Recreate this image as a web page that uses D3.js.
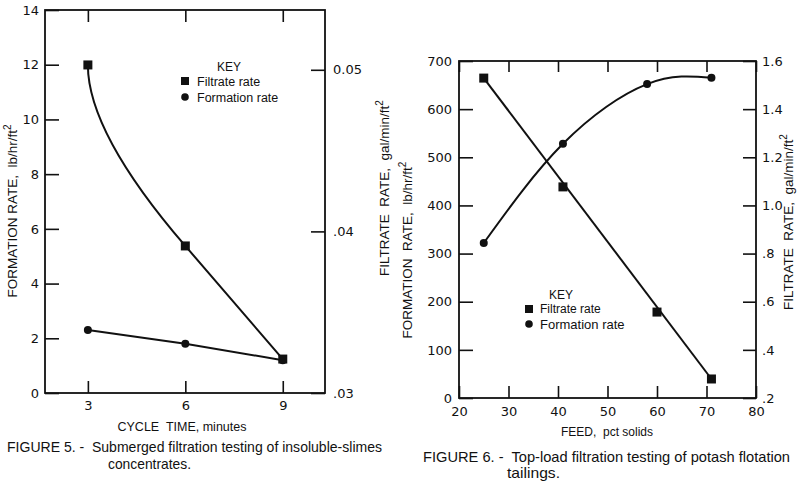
<!DOCTYPE html>
<html>
<head>
<meta charset="utf-8">
<script src="https://cdn.jsdelivr.net/npm/d3@7"></script>
<style>
  html, body { margin: 0; padding: 0; background: #fff; }
  svg { display: block; }
  text { font-family: "Liberation Sans", "DejaVu Sans", Arial, sans-serif; fill: #111; }
  .cap { font-family: "Liberation Sans Narrow", "Liberation Sans", "DejaVu Sans Condensed", sans-serif; }
</style>
</head>
<body>
<svg id="chart" width="800" height="484"></svg>
<script>
// ---------------- DATA ----------------
// Figure 5
const cycleTime = [3, 6, 9];
const filtrateRate5 = [0.0503, 0.0391, 0.0321];   // gal/min/ft2 (right axis)
const formationRate5 = [2.3, 1.8, 1.2];           // lb/hr/ft2 (left axis)
const leftTicks5 = [0, 2, 4, 6, 8, 10, 12, 14];
const xTicks5 = [3, 6, 9];
const rightTicks5 = [0.03, 0.04, 0.05];
const rightTickLabels5 = [".03", ".04", "0.05"];

// Figure 6
const feedFiltrate = [25, 41, 60, 71];
const filtrateRate6 = [1.529, 1.077, 0.557, 0.279]; // gal/min/ft2 (right axis)
const feedFormation = [25, 41, 58, 71];
const formationRate6 = [322, 528, 652, 665];        // lb/hr/ft2 (left axis)
const leftTicks6 = [0, 100, 200, 300, 400, 500, 600, 700];
const xTicks6 = [20, 30, 40, 50, 60, 70, 80];
const rightTicks6 = [0.2, 0.4, 0.6, 0.8, 1.0, 1.2, 1.4, 1.6];
const rightTickLabels6 = [".2", ".4", ".6", ".8", "1.0", "1.2", "1.4", "1.6"];

const keyTitle = "KEY";
const keyLabels = ["Filtrate rate", "Formation rate"];

// ---------------- DRAW ----------------
const svg = d3.select("#chart");
const INK = "#111";

function axisTitle(g, x, y, main) {
  const t = g.append("text")
    .attr("transform", `translate(${x},${y}) rotate(-90)`)
    .attr("text-anchor", "middle")
    .attr("font-size", 13.5)
    .attr("xml:space", "preserve");
  t.append("tspan").text(main);
  t.append("tspan").text("ft");
  t.append("tspan").attr("dy", -6).attr("font-size", 10).text("2");
}

function styleAxis(g, fs) {
  g.select(".domain").remove();
  g.selectAll(".tick line").attr("stroke", INK).attr("stroke-width", 1.6);
  g.selectAll(".tick text").attr("font-size", fs).attr("fill", INK)
    .style("font-family", '"DejaVu Sans", "Liberation Sans", sans-serif');
}

function square(g, x, y, s) {
  g.append("rect").attr("x", x - s / 2).attr("y", y - s / 2)
    .attr("width", s).attr("height", s).attr("fill", INK);
}
function dot(g, x, y, r) {
  g.append("circle").attr("cx", x).attr("cy", y).attr("r", r).attr("fill", INK);
}

// ===== Figure 5 =====
{
  const L = 45, R = 325, T = 10, B = 393;
  const g = svg.append("g");
  const x = d3.scaleLinear().domain([1.68, 10.3]).range([L, R]);
  const yL = d3.scaleLinear().domain([0, 14]).range([B, T]);
  const yR = d3.scaleLinear().domain([0.03, 0.0537]).range([B, T]);

  g.append("rect").attr("x", L).attr("y", T).attr("width", R - L).attr("height", B - T)
    .attr("fill", "none").attr("stroke", INK).attr("stroke-width", 1.8);

  const ax1 = g.append("g").attr("transform", `translate(${L},0)`)
    .call(d3.axisLeft(yL).tickValues(leftTicks5).tickSize(-14).tickPadding(6));
  styleAxis(ax1, 13);
  const ax2 = g.append("g").attr("transform", `translate(${R},0)`)
    .call(d3.axisRight(yR).tickValues(rightTicks5).tickSize(-14).tickPadding(8)
      .tickFormat((d, i) => rightTickLabels5[i]));
  styleAxis(ax2, 13);
  const ax3 = g.append("g").attr("transform", `translate(0,${B})`)
    .call(d3.axisBottom(x).tickValues(xTicks5).tickSize(-12).tickPadding(8));
  styleAxis(ax3, 13);
  const ax4 = g.append("g").attr("transform", `translate(0,${T})`)
    .call(d3.axisTop(x).tickValues(xTicks5).tickSize(-12).tickFormat(""));
  styleAxis(ax4, 13);

  // filtrate rate: smooth curve 3->6, straight 6->9
  const p = cycleTime.map((c, i) => [x(c), yR(filtrateRate5[i])]);
  const slope2 = (p[2][1] - p[1][1]) / (p[2][0] - p[1][0]);
  const cx = p[0][0], cy = p[1][1] - slope2 * (p[1][0] - p[0][0]);
  const path = d3.path();
  path.moveTo(p[0][0], p[0][1]);
  path.quadraticCurveTo(cx, cy, p[1][0], p[1][1]);
  path.lineTo(p[2][0], p[2][1]);
  g.append("path").attr("d", path.toString()).attr("fill", "none")
    .attr("stroke", INK).attr("stroke-width", 2);

  // formation rate: straight segments
  g.append("path")
    .attr("d", d3.line().x((d, i) => x(cycleTime[i])).y(d => yL(d))(formationRate5))
    .attr("fill", "none").attr("stroke", INK).attr("stroke-width", 2);

  formationRate5.forEach((v, i) => dot(g, x(cycleTime[i]), yL(v), 4));
  filtrateRate5.forEach((v, i) => square(g, x(cycleTime[i]), yR(v), 9));

  // key
  g.append("text").attr("x", 229).attr("y", 71).attr("text-anchor", "middle")
    .attr("font-size", 12).text(keyTitle);
  square(g, 185, 81, 8);
  g.append("text").attr("x", 197).attr("y", 86).attr("font-size", 12.5).text(keyLabels[0]);
  dot(g, 185, 97, 3.8);
  g.append("text").attr("x", 197).attr("y", 102).attr("font-size", 12.5).text(keyLabels[1]);

  // axis titles
  g.append("text").attr("x", 182).attr("y", 431).attr("text-anchor", "middle")
    .attr("font-size", 12.5).attr("xml:space", "preserve").text("CYCLE  TIME, minutes");
  axisTitle(g, 17, 211, "FORMATION RATE,  lb/hr/");
  axisTitle(g, 389, 188, "FILTRATE  RATE,  gal/min/");

  // caption
  g.append("text").attr("class", "cap").attr("x", 7).attr("y", 452).attr("font-size", 15)
    .attr("textLength", 375).attr("lengthAdjust", "spacingAndGlyphs")
    .attr("xml:space", "preserve")
    .text("FIGURE 5. -  Submerged filtration testing of insoluble-slimes");
  g.append("text").attr("class", "cap").attr("x", 108).attr("y", 469).attr("font-size", 15)
    .attr("textLength", 83).attr("lengthAdjust", "spacingAndGlyphs")
    .text("concentrates.");
}

// ===== Figure 6 =====
{
  const L = 459, R = 756, T = 61, B = 398;
  const g = svg.append("g");
  const x = d3.scaleLinear().domain([20, 80]).range([L, R]);
  const yL = d3.scaleLinear().domain([0, 700]).range([B, T]);
  const yR = d3.scaleLinear().domain([0.2, 1.6]).range([B, T]);

  g.append("rect").attr("x", L).attr("y", T).attr("width", R - L).attr("height", B - T)
    .attr("fill", "none").attr("stroke", INK).attr("stroke-width", 1.8);

  const ax1 = g.append("g").attr("transform", `translate(${L},0)`)
    .call(d3.axisLeft(yL).tickValues(leftTicks6).tickSize(-14).tickPadding(7));
  styleAxis(ax1, 13);
  const ax2 = g.append("g").attr("transform", `translate(${R},0)`)
    .call(d3.axisRight(yR).tickValues(rightTicks6).tickSize(-13).tickPadding(6)
      .tickFormat((d, i) => rightTickLabels6[i]));
  styleAxis(ax2, 13);
  const ax3 = g.append("g").attr("transform", `translate(0,${B})`)
    .call(d3.axisBottom(x).tickValues(xTicks6).tickSize(-12).tickPadding(9));
  styleAxis(ax3, 13);
  const ax4 = g.append("g").attr("transform", `translate(0,${T})`)
    .call(d3.axisTop(x).tickValues(xTicks6).tickSize(-11).tickFormat(""));
  styleAxis(ax4, 13);

  // filtrate: straight line between end points
  const n = feedFiltrate.length - 1;
  g.append("line")
    .attr("x1", x(feedFiltrate[0])).attr("y1", yR(filtrateRate6[0]))
    .attr("x2", x(feedFiltrate[n])).attr("y2", yR(filtrateRate6[n]))
    .attr("stroke", INK).attr("stroke-width", 2);

  // formation: smooth curve
  g.append("path")
    .attr("d", d3.line().curve(d3.curveNatural)
      .x((d, i) => x(feedFormation[i])).y(d => yL(d))(formationRate6))
    .attr("fill", "none").attr("stroke", INK).attr("stroke-width", 2);

  formationRate6.forEach((v, i) => dot(g, x(feedFormation[i]), yL(v), 4));
  filtrateRate6.forEach((v, i) => square(g, x(feedFiltrate[i]), yR(v), 9));

  // key
  g.append("text").attr("x", 561).attr("y", 299).attr("text-anchor", "middle")
    .attr("font-size", 12).text(keyTitle);
  square(g, 529, 309, 8);
  g.append("text").attr("x", 540).attr("y", 313).attr("font-size", 12).text(keyLabels[0]);
  dot(g, 529, 324, 3.8);
  g.append("text").attr("x", 540).attr("y", 329).attr("font-size", 13).text(keyLabels[1]);

  // axis titles
  g.append("text").attr("x", 607).attr("y", 436).attr("text-anchor", "middle")
    .attr("font-size", 12).text("FEED,  pct solids").attr("xml:space", "preserve");
  axisTitle(g, 412, 250, "FORMATION  RATE,  lb/hr/");
  axisTitle(g, 793, 222, "FILTRATE  RATE,  gal/min/");

  // caption
  g.append("text").attr("class", "cap").attr("x", 423).attr("y", 462).attr("font-size", 15)
    .attr("textLength", 367).attr("lengthAdjust", "spacingAndGlyphs")
    .attr("xml:space", "preserve")
    .text("FIGURE 6. -  Top-load filtration testing of potash flotation");
  g.append("text").attr("class", "cap").attr("x", 507).attr("y", 478).attr("font-size", 15)
    .attr("textLength", 53).attr("lengthAdjust", "spacingAndGlyphs")
    .text("tailings.");
}
</script>
</body>
</html>
